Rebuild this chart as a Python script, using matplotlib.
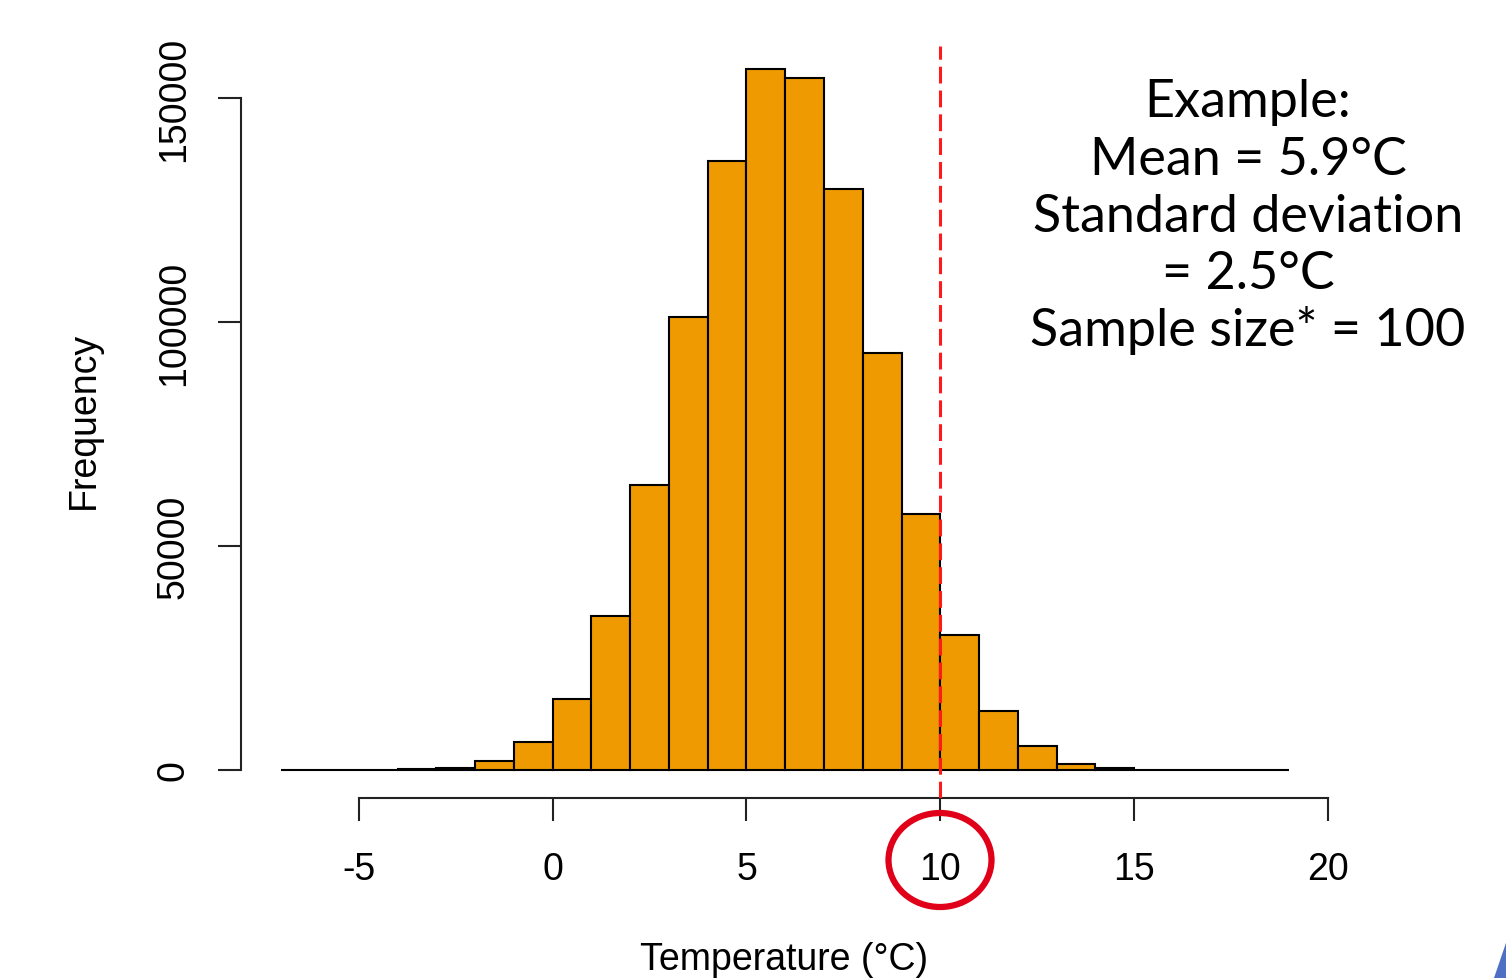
import matplotlib
matplotlib.use("Agg")
import matplotlib.pyplot as plt
from matplotlib.patches import Ellipse, Polygon
import numpy as np

# histogram bins (°C) and counts
bin_left = list(range(-7, 19))
counts = [0, 0, 0, 250, 500, 2100, 6300, 15850, 34400, 63600, 101100,
          135900, 156500, 154500, 129700, 93100, 57100, 30100, 13200,
          5300, 1400, 400, 0, 0, 0, 0]
xticks = [-5, 0, 5, 10, 15, 20]
yticks = [0, 50000, 100000, 150000]
threshold = 10
info_lines = ["Example:", "Mean = 5.9°C", "Standard deviation",
              "= 2.5°C", "Sample size* = 100"]

W, H = 1506, 979
fig = plt.figure(figsize=(W / 100, H / 100), dpi=100)
plt.rcParams["font.family"] = ["Liberation Sans", "DejaVu Sans"]

# axes box in pixels: left 241, right 1329.5, top 42, bottom 799
ax = fig.add_axes([241 / W, 1 - 799 / H, 1088.5 / W, 757 / H])
ax.bar(bin_left, counts, width=1.0, align="edge", color="#EE9A00",
       edgecolor="black", linewidth=1.5, zorder=2)
ax.set_xlim(-8.04, 20.04)
ax.set_ylim(-6250, 162723)

ax.axvline(threshold, ymin=0, ymax=0.993, color="#FF1A1A", linewidth=2.2,
           linestyle=(0, (5.5, 2.3)), zorder=3)

for s in ("top", "right"):
    ax.spines[s].set_visible(False)
ax.spines["bottom"].set_bounds(xticks[0], xticks[-1])
ax.spines["left"].set_bounds(yticks[0], yticks[-1])
for s in ("bottom", "left"):
    ax.spines[s].set_linewidth(1.5)
    ax.spines[s].set_color("#222222")
ax.set_xticks(xticks)
ax.set_xticklabels([str(t) for t in xticks])
ax.set_yticks(yticks)
ax.set_yticklabels([str(t) for t in yticks], rotation=90, va="center")
ax.tick_params(axis="both", length=16.5, width=1.5, color="#222222",
               labelsize=27)
ax.tick_params(axis="x", pad=22)
ax.tick_params(axis="y", pad=19)

# axis labels, placed in figure pixels
fig.text(784 / W, 1 - 960 / H, "Temperature (°C)", fontsize=27,
         ha="center", va="center")
fig.text(84 / W, 1 - 420 / H, "Frequency", fontsize=27, rotation=90,
         ha="center", va="center")

# text block on the right
baselines = [117, 175, 232, 289, 346]
for line, yb in zip(info_lines, baselines):
    fig.text(1248 / W, 1 - yb / H, line, fontsize=37.5, ha="center",
             va="baseline", family=["Lato", "DejaVu Sans"])

# red circle around the "10" tick label
fig.patches.append(Ellipse((940 / W, 1 - 861 / H), 103 / W, 94 / H,
                           transform=fig.transFigure, fill=False,
                           edgecolor="#E0001A", linewidth=4.5))

# blue corner decoration
fig.patches.append(Polygon([(1494 / W, 0), (1 + 0.001, 0),
                            (1 + 0.001, 1 - 938 / H)],
                           closed=True, transform=fig.transFigure,
                           facecolor="#4F6FC4", edgecolor="none"))

fig.savefig("out.png", dpi=100)
